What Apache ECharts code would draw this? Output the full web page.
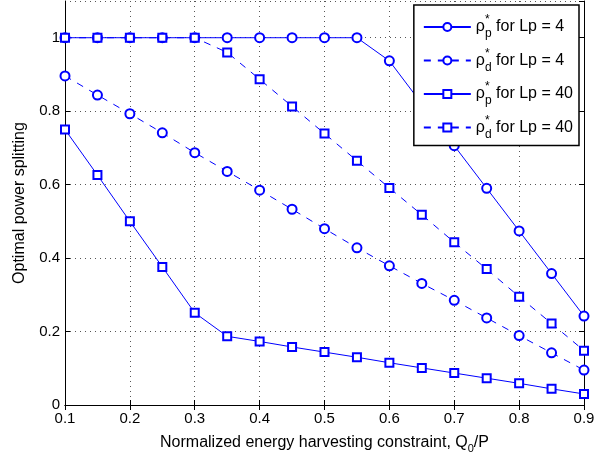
<!DOCTYPE html>
<html>
<head>
<meta charset="utf-8">
<script src="https://cdn.jsdelivr.net/npm/echarts@6/dist/echarts.min.js"></script>
<style>html,body{margin:0;padding:0;background:#fff}#c{width:612px;height:459px}</style>
</head>
<body>
<div id="c"></div>
<script>
var xVals = [0.1,0.15,0.2,0.25,0.3,0.35,0.4,0.45,0.5,0.55,0.6,0.65,0.7,0.75,0.8,0.85,0.9];
var rhoP4  = [1,1,1,1,1,1,1,1,1,1,0.937,0.82,0.706,0.590,0.474,0.358,0.242];
var rhoD4  = [0.896,0.844,0.793,0.741,0.687,0.636,0.585,0.533,0.480,0.428,0.379,0.331,0.285,0.237,0.189,0.142,0.095];
var rhoP40 = [0.75,0.626,0.5,0.376,0.251,0.187,0.173,0.158,0.144,0.130,0.115,0.101,0.087,0.073,0.059,0.044,0.030];
var rhoD40 = [1,1,1,1,1,0.960,0.887,0.813,0.739,0.665,0.591,0.518,0.443,0.370,0.295,0.222,0.148];
var xTicks = ['0.1','0.2','0.3','0.4','0.5','0.6','0.7','0.8','0.9'];
var yTicks = ['0','0.2','0.4','0.6','0.8','1'];
var seriesNames = ['rp4','rd4','rp40','rd40'];
var legendLabels = {
  rp4:  ['p','4'],
  rd4:  ['d','4'],
  rp40: ['p','40'],
  rd40: ['d','40']
};

function pairs(ys){ return xVals.map(function(x,i){ return [x, ys[i]]; }); }

var FONT = 'Liberation Sans, Arial, Helvetica, sans-serif';
var BLUE = '#0000ff';

function mkSeries(name, ys, sym, dashed, size){
  return {
    name: name, type: 'line', data: pairs(ys),
    symbol: sym, symbolSize: size, showSymbol: true,
    lineStyle: {color: BLUE, width: 1, type: dashed ? [7,7] : 'solid'},
    itemStyle: {color: BLUE, borderColor: BLUE, borderWidth: 1},
    emphasis: {disabled: true},
    animation: false, z: 3
  };
}

var chart = echarts.init(document.getElementById('c'), null, {renderer: 'canvas'});
var axisCommon = {
  axisLine: {show: true, lineStyle: {color: '#000', width: 1}},
  axisTick: {show: true, inside: true, length: 5, lineStyle: {color: '#000'}}
};
chart.setOption({
  animation: false,
  backgroundColor: '#fff',
  grid: {left: 65, right: 28, top: 1, bottom: 49, containLabel: false},
  xAxis: [
    Object.assign({
      type: 'value', min: 0.1, max: 0.9, interval: 0.1, position: 'bottom',
      axisLabel: {color: '#000', fontSize: 15, fontFamily: FONT, margin: 6,
        formatter: function(v){ var s = v.toFixed(1); return xTicks.indexOf(s) >= 0 ? s : ''; }},
      splitLine: {show: true, lineStyle: {color: '#555', type: [1,4], width: 1}},
      name: '{n|Normalized energy harvesting constraint, Q}{s|0}{n|/P}',
      nameLocation: 'middle', nameGap: 26,
      nameTextStyle: {rich: {
        n: {fontSize: 16, fontFamily: FONT, color: '#000'},
        s: {fontSize: 11, fontFamily: FONT, color: '#000', padding: [12,0,0,0]}
      }}
    }, axisCommon),
    Object.assign({
      type: 'value', min: 0.1, max: 0.9, interval: 0.1, position: 'top',
      axisLabel: {show: false}, splitLine: {show: false}
    }, axisCommon)
  ],
  yAxis: [
    Object.assign({
      type: 'value', min: 0, max: 1.1, interval: 0.2, position: 'left',
      axisLabel: {color: '#000', fontSize: 15, fontFamily: FONT, margin: 5, showMaxLabel: false,
        formatter: function(v){ var s = String(Math.round(v*10)/10); return yTicks.indexOf(s) >= 0 ? s : ''; }},
      splitLine: {show: true, lineStyle: {color: '#555', type: [1,4], width: 1}},
      name: 'Optimal power splitting', nameLocation: 'middle', nameGap: 37,
      nameTextStyle: {fontSize: 16, fontFamily: FONT, color: '#000'}
    }, axisCommon),
    Object.assign({
      type: 'value', min: 0, max: 1.1, interval: 0.2, position: 'right',
      axisLabel: {show: false}, splitLine: {show: false}
    }, axisCommon)
  ],
  legend: {
    orient: 'vertical', right: 33, top: 5,
    backgroundColor: '#fff', borderColor: '#000', borderWidth: 1.5, borderRadius: 0,
    padding: [9, 6, 5, 9],
    itemWidth: 47, itemHeight: 10, itemGap: 7.5,
    data: seriesNames,
    formatter: function(name){
      var l = legendLabels[name];
      return '{r|ρ}{sup|*}{sub|' + l[0] + '}{t| for Lp = ' + l[1] + '}';
    },
    textStyle: {
      color: '#000', fontFamily: FONT, fontSize: 16,
      rich: {
        r: {fontSize: 16, fontFamily: FONT, color: '#000'},
        sup: {fontSize: 12, fontFamily: FONT, color: '#000', width: 0, padding: [0,0,14,0]},
        sub: {fontSize: 12, fontFamily: FONT, color: '#000', padding: [14,0,0,0]},
        t: {fontSize: 16, fontFamily: FONT, color: '#000'}
      }
    }
  },
  series: [
    mkSeries('rp4', rhoP4, 'emptyCircle', false, 9),
    mkSeries('rd4', rhoD4, 'emptyCircle', true, 9),
    mkSeries('rp40', rhoP40, 'emptyRect', false, 8),
    mkSeries('rd40', rhoD40, 'emptyRect', true, 8)
  ]
});
</script>
</body>
</html>
